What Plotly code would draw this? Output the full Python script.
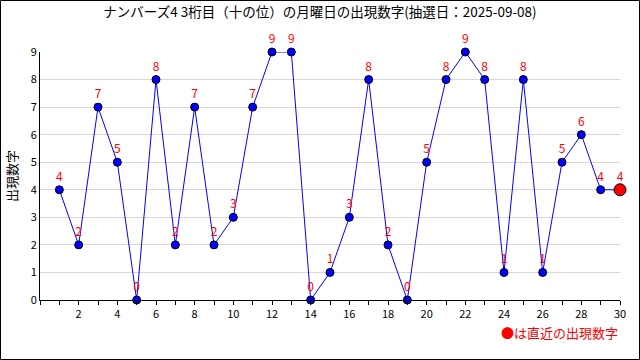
import plotly.graph_objects as go

title = "ナンバーズ4 3桁目（十の位）の月曜日の出現数字(抽選日：2025-09-08)"
draws = list(range(1, 31))
digits = [4, 2, 7, 5, 0, 8, 2, 7, 2, 3, 7, 9, 9, 0, 1, 3, 8, 2, 0, 5, 8, 9, 8, 1, 8, 1, 5, 6, 4, 4]
x_ticks = list(range(2, 31, 2))
y_ticks = list(range(0, 10))

FONT = "Noto Sans CJK JP, DejaVu Sans, sans-serif"
W, H = 640, 360
L, R, T, B = 40, 20, 52, 60
pw, ph = W - L - R, H - T - B

fig = go.Figure()
fig.add_trace(go.Scatter(
    x=draws, y=digits, mode="lines+markers+text",
    text=[str(d) for d in digits], textposition="top center",
    textfont=dict(color="red", size=12, family=FONT),
    line=dict(color="blue", width=1),
    marker=dict(color="blue", size=8, line=dict(color="black", width=1)),
    cliponaxis=False, hoverinfo="x+y",
))
fig.add_trace(go.Scatter(
    x=draws[-1:], y=digits[-1:], mode="markers",
    marker=dict(color="red", size=12, line=dict(color="black", width=1)),
    cliponaxis=False, hoverinfo="x+y",
))

fig.update_layout(
    width=W, height=H, margin=dict(l=L, r=R, t=T, b=B, autoexpand=False),
    paper_bgcolor="white", plot_bgcolor="white", showlegend=False,
    font=dict(family=FONT, size=11, color="black"),
    title=dict(text=title, x=0.5, xanchor="center", y=1 - 12 / H, yanchor="middle",
               font=dict(size=13.5, family=FONT, color="black")),
    xaxis=dict(range=[0, 30], tickvals=x_ticks, ticks="outside", ticklen=4,
               tickcolor="black", showline=True, linecolor="black", linewidth=1,
               showgrid=False, zeroline=False, tickfont=dict(size=11),
               minor=dict(ticks="outside", dtick=1, tick0=0, ticklen=4, tickcolor="black", showgrid=False)),
    yaxis=dict(range=[0, 9], tickvals=y_ticks, ticks="", showline=True, linecolor="black",
               linewidth=1, showgrid=True, gridcolor="#d8d8d8", zeroline=False,
               tickfont=dict(size=11),
               title=dict(text="出現数字", font=dict(size=13), standoff=10)),
)

fig.add_annotation(text="●は直近の出現数字", xref="paper", yref="paper",
                   x=1, y=-(332 - T - ph) / ph, xanchor="right", yanchor="middle",
                   showarrow=False, font=dict(color="red", size=13, family=FONT))

fig.add_shape(type="rect", xref="paper", yref="paper",
              x0=-(L - 0.5) / pw, x1=1 + (R - 0.5) / pw,
              y0=-(B - 0.5) / ph, y1=1 + (T - 0.5) / ph,
              line=dict(color="black", width=1), fillcolor="rgba(0,0,0,0)", layer="below")

fig.write_html("out.html", config={"displayModeBar": False},
               post_script="document.body.style.margin='0';document.body.style.padding='0';")
